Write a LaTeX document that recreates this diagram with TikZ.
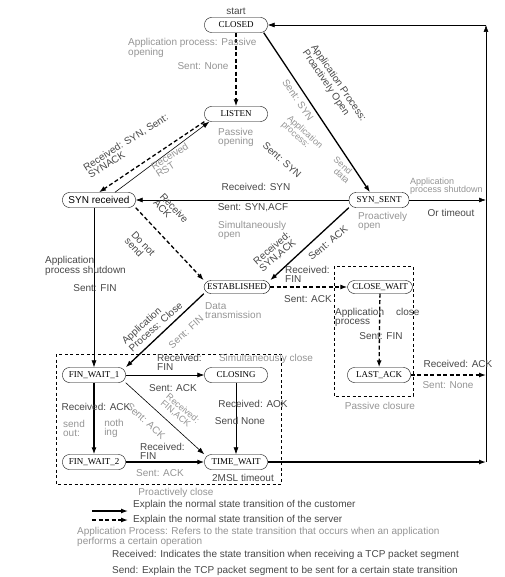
\documentclass[tikz,border=0pt]{standalone}
\usepackage{fontspec}
\setmainfont{Liberation Sans}
\newfontfamily\statefont{Liberation Serif}
\usetikzlibrary{positioning, arrows.meta}

\begin{document}
\begin{tikzpicture}[x=1pt, y=-1pt,
    state/.style={draw, rounded corners=7pt, minimum width=63pt, minimum height=15pt,
                  inner sep=1pt, font=\statefont\fontsize{9}{9}\selectfont},
    lab/.style={text=black!72, font=\fontsize{10}{9}\selectfont, inner sep=0pt, align=left},
    glab/.style={lab, text=black!42},
    small/.style={font=\fontsize{9}{8.5}\selectfont},
    cli/.style={-{Latex[length=7pt,width=5pt]}, line width=1.3pt},
    srv/.style={cli, dash pattern=on 4pt off 2.5pt},
    arr/.style={-{Latex[length=7pt,width=5pt]}, line width=0.6pt},
    grp/.style={line width=0.6pt, dash pattern=on 3pt off 2.5pt}
  ]
  \useasboundingbox (0,0) rectangle (504,577);

  % states
  \node[state] (closed) at (236,25) {CLOSED};
  \node[state] (listen) at (236,114) {LISTEN};
  \node[state, font=\fontsize{10}{10}\selectfont, minimum width=73pt] (synrcvd) at (99,200) {SYN received};
  \node[state, minimum width=60pt] (synsent) at (379,200) {SYN\_SENT};
  \node[state, minimum width=66pt, minimum height=13pt] (estab) at (237,287) {ESTABLISHED};
  \node[state, minimum width=65pt, minimum height=13pt] (closewait) at (380,287) {CLOSE\_WAIT};
  \node[state] (lastack) at (379,375) {LAST\_ACK};
  \node[state] (finwait1) at (94,375) {FIN\_WAIT\_1};
  \node[state] (closing) at (236,375) {CLOSING};
  \node[state] (finwait2) at (94,462) {FIN\_WAIT\_2};
  \node[state] (timewait) at (236,462) {TIME\_WAIT};

  % return path to CLOSED
  \coordinate (rtop) at (486,25);
  \coordinate (rsyn) at (486,200);
  \coordinate (rlast) at (486,375);
  \coordinate (rbot) at (486,462);

  % groups
  \draw[grp] (56,354) rectangle (281,484);
  \draw[grp] (334,266) rectangle (413,396);

  % transitions
  \draw[srv] (closed) -- (listen);
  \draw[cli] ([xshift=-4pt]closed.south east) -- ([xshift=-9pt]synsent.north);
  \draw[srv] (listen.south west) -- (synrcvd.north);
  \draw[arr] ([xshift=16pt]synrcvd.north) -- ([xshift=5pt]listen.south west);
  \draw[arr] (synsent) -- (synrcvd);
  \draw[srv] (synrcvd.south east) -- (estab.north west);
  \draw[cli] (synsent.south west) -- (estab.north east);
  \draw[srv] (estab) -- (closewait);
  \draw[srv] (closewait) -- (lastack);
  \draw[srv] (lastack) -- (rlast);
  \draw[arr] (synsent) -- (rsyn);
  \draw[cli] (timewait) -- (rbot);
  \draw[arr] (rbot) -- (rtop);
  \draw[arr] (rtop) -- (closed);
  \draw[arr] (synrcvd.south -| finwait1) -- (finwait1);
  \draw[cli] (estab.south west) -- (finwait1.north east);
  \draw[arr] (finwait1) -- (closing);
  \draw[arr] (finwait1.south east) -- (timewait.north west);
  \draw[cli] (finwait1) -- (finwait2);
  \draw[arr] (closing) -- (timewait);
  \draw[cli] (finwait2) -- (timewait);

  % labels
  \node[lab] (start) at (236,11) {start};
  \node[glab, anchor=west] (pasopen) at (128,48) {Application process: Passive\\opening};
  \node[glab] (sentnone1) at (203,66) {Sent: None};
  \node[glab] (pasopen2) at (236,137) {Passive\\opening};
  \node[lab, rotate=-56] (proopen) at (334,86) {Application Process:\\Proactively Open};
  \node[glab, rotate=-56] (sentsyn1) at (298,100) {Sent: SYN};
  \node[glab, small, rotate=-42] (senddata) at (318,150) {Application\hspace{2em}Send\\process:\hspace{4em}data};
  \node[lab, rotate=-42] (sentsyn2) at (282,160) {Sent: SYN};
  \node[lab, rotate=32] (rcvsyn) at (128,146) {Received: SYN, Sent:\\SYNACK};
  \node[glab, rotate=32] (rcvrst) at (172,160) {Received\\RST};
  \node[lab, rotate=-47] (rcvack) at (171,211) {Receive\\ACK};
  \node[lab, rotate=-47] (nosend) at (140,247) {Do not\\send};
  \node[lab] (rcvsyn2) at (256,187) {Received: SYN};
  \node[lab] (sentsynack) at (253,208) {Sent: SYN,ACF};
  \node[glab, anchor=west] (simopen) at (218,230) {Simultaneously\\open};
  \node[lab, rotate=40] (rcvsynack) at (275,252) {Received:\\SYN,ACK};
  \node[lab, rotate=40] (sentack1) at (328,243) {Sent: ACK};
  \node[glab, anchor=west] (proopen2) at (358,221) {Proactively\\open};
  \node[glab, small, anchor=west] (appshut1) at (410,186) {Application\\process shutdown};
  \node[lab] (timeout) at (451,213) {Or timeout};
  \node[lab, anchor=west] (appshut2) at (45,266) {Application\\process shutdown};
  \node[lab] (sentfin1) at (95,288) {Sent: FIN};
  \node[lab, rotate=42] (appclose) at (152,323) {Application\\Process: Close};
  \node[glab, rotate=42] (sentfin2) at (186,332) {Sent: FIN};
  \node[glab, anchor=west] (datatx) at (205,311) {Data\\transmission};
  \node[lab, anchor=west] (rcvfin1) at (285,274) {Received:\\FIN};
  \node[lab] (sentack2) at (308,299) {Sent: ACK};
  \node[lab, anchor=west] (appclose2) at (335,317) {Application\hspace{1.2em}close\\process};
  \node[lab] (sentfin3) at (381,336) {Sent: FIN};
  \node[lab] (rcvack2) at (458,364) {Received: ACK};
  \node[glab] (sentnone2) at (448,385) {Sent: None};
  \node[glab] (pasclose) at (380,406) {Passive closure};
  \node[lab, anchor=west] (rcvfin2) at (157,362) {Received:\\FIN};
  \node[lab] (sentack3) at (173,388) {Sent: ACK};
  \node[glab] (simclose) at (266,359) {Simultaneously close};
  \node[lab] (rcvack3) at (253,404) {Received: AOK};
  \node[lab] (sendnone) at (240,421) {Send None};
  \node[glab, small, rotate=-40] (rcvfinack) at (180,412) {Received:\\FIN,ACK};
  \node[glab, rotate=-42] (sentack4) at (146,421) {Sent: ACK};
  \node[lab] (rcvack4) at (96,407) {Received: ACK};
  \node[glab] (sendout) at (74,428) {send\\out:};
  \node[glab] (nothing) at (114,428) {noth\\ing};
  \node[lab, anchor=west] (rcvfin3) at (140,451) {Received:\\FIN};
  \node[glab] (sentack5) at (160,473) {Sent: ACK};
  \node[lab] (msl) at (243,478) {2MSL timeout};
  \node[glab] (proclose) at (176,493) {Proactively close};

  % legend
  \coordinate (l1a) at (92,511);
  \coordinate (l1b) at (128,511);
  \coordinate (l2a) at (92,520);
  \coordinate (l2b) at (128,520);
  \draw[cli] (l1a) -- (l1b);
  \draw[srv] (l2a) -- (l2b);
  \node[lab, anchor=west] (leg1) at (133,505) {Explain the normal state transition of the customer};
  \node[lab, anchor=west] (leg2) at (133,520) {Explain the normal state transition of the server};
  \node[glab, anchor=west] (leg3) at (77,537) {Application Process: Refers to the state transition that occurs when an application\\performs a certain operation};
  \node[lab, anchor=west] (leg4) at (112,555) {Received: Indicates the state transition when receiving a TCP packet segment};
  \node[lab, anchor=west] (leg5) at (112,571) {Send: Explain the TCP packet segment to be sent for a certain state transition};
\end{tikzpicture}
\end{document}
